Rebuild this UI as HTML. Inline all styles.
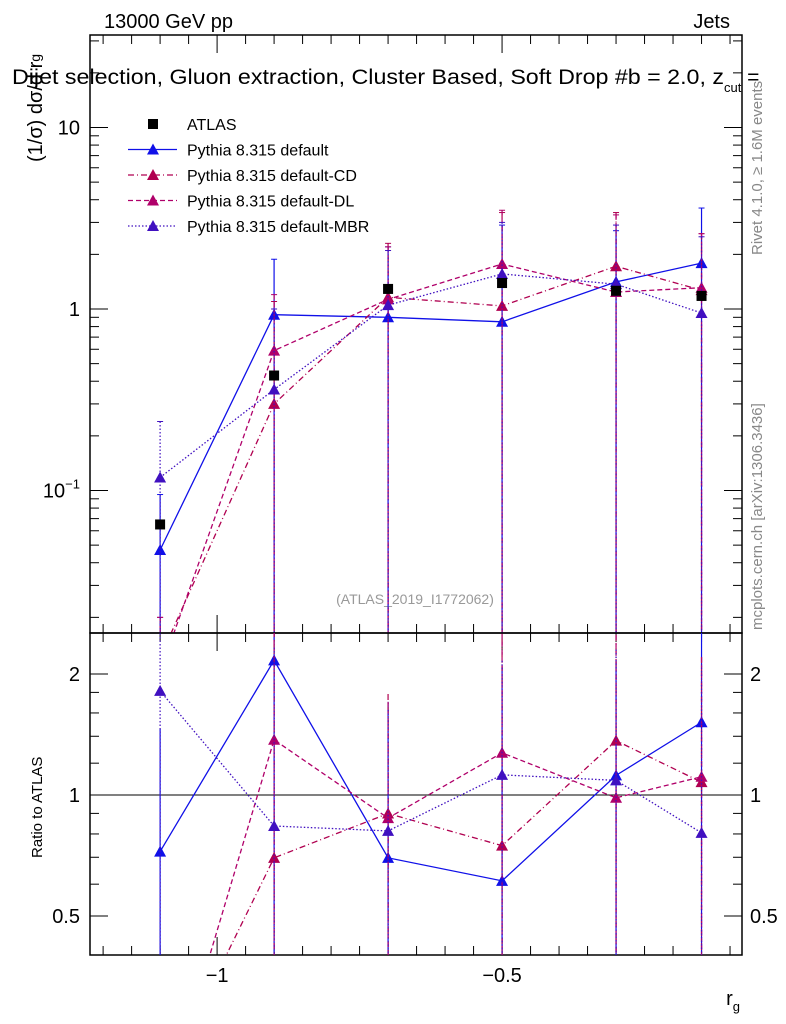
<!DOCTYPE html>
<html><head><meta charset="utf-8"><style>
html,body{margin:0;padding:0;background:#fff;overflow:hidden;width:786px;height:1024px;}
svg{display:block;font-family:"Liberation Sans",sans-serif;}
</style></head><body>
<svg id="chart" width="786" height="1024" viewBox="0 0 786 1024" xmlns="http://www.w3.org/2000/svg">
<text x="104" y="28" font-size="20">13000 GeV pp</text>
<text x="730" y="28" font-size="20" text-anchor="end">Jets</text>
<text x="12" y="84" font-size="21"><tspan textLength="712" lengthAdjust="spacingAndGlyphs">Dijet selection, Gluon extraction, Cluster Based, Soft Drop #b = 2.0, z</tspan><tspan font-size="13" dy="8">cut</tspan><tspan dy="-8"> =</tspan></text>
<text transform="translate(42,162) rotate(-90)" font-size="20">(1/σ) dσ/d r<tspan font-size="14" dy="-2">g</tspan></text>
<text transform="translate(42,858) rotate(-90)" font-size="15">Ratio to ATLAS</text>
<text x="740" y="1005" font-size="20" text-anchor="end">r<tspan font-size="13" dy="6">g</tspan></text>
<text transform="translate(762,255) rotate(-90)" font-size="15" fill="#888">Rivet 4.1.0, ≥ 1.6M events</text>
<text transform="translate(762,630) rotate(-90)" font-size="15" fill="#888">mcplots.cern.ch [arXiv:1306.3436]</text>
<text x="415" y="604" font-size="14" fill="#999" text-anchor="middle">(ATLAS_2019_I1772062)</text>
<g id="main"></g>
<g id="ratio"></g>
<g id="legend"></g>
</svg>
<script>
const xVals = [-1.1, -0.9, -0.7, -0.5, -0.3, -0.15];
const atlas = [0.065, 0.43, 1.29, 1.39, 1.26, 1.18];
const pyDefault = [0.047, 0.93, 0.90, 0.85, 1.41, 1.79];
const pyCD = [0.012, 0.30, 1.16, 1.04, 1.72, 1.27];
const pyDL = [0.010, 0.59, 1.13, 1.77, 1.24, 1.31];
const pyMBR = [0.118, 0.36, 1.05, 1.56, 1.37, 0.95];
const errUpDefault = [0.095, 1.88, 2.2, 2.9, 2.7, 3.6];
const errUpCD = [0.02, 1.1, 2.3, 3.4, 3.4, 2.6];
const errUpDL = [0.02, 1.2, 2.2, 3.5, 3.3, 2.6];
const errUpMBR = [0.24, 1.0, 2.1, 3.0, 2.9, 2.5];
const xTicks = [-1, -0.5];
const xTickLabels = ["−1", "−0.5"];
const yTicks = [10, 1, 0.1];
const ratioTicks = [2, 1, 0.5];

const NS = "http://www.w3.org/2000/svg";
const L = 90, R = 742, T = 35, MB = 633, RB = 955;
const xMin = -1.223, xMax = -0.079;
const X = v => L + (v - xMin) / (xMax - xMin) * (R - L);
const Y = v => 309 - Math.log10(v) * 181.5;
const RY = v => 795 - Math.log2(v) * 121;
function mk(tag, attrs, parent) { const e = document.createElementNS(NS, tag); for (const k in attrs) e.setAttribute(k, attrs[k]); parent.appendChild(e); return e; }
const main = document.getElementById('main'), ratio = document.getElementById('ratio'), leg = document.getElementById('legend');

const defs = mk('defs', {}, document.getElementById('chart'));
const c1 = mk('clipPath', {id: 'cm'}, defs); mk('rect', {x: L, y: T, width: R - L, height: MB - T}, c1);
const c2 = mk('clipPath', {id: 'cr'}, defs); mk('rect', {x: L, y: MB, width: R - L, height: RB - MB}, c2);

let f = mk('rect', {x: L, y: T, width: R - L, height: MB - T, fill: 'none', stroke: '#000', 'stroke-width': 1.5}, main);
 
f = mk('rect', {x: L, y: MB, width: R - L, height: RB - MB, fill: 'none', stroke: '#000', 'stroke-width': 1.5}, ratio);
 

for (let v = -1.2; v <= -0.08; v += 0.05) {
  const major = Math.abs(v*2-Math.round(v*2))<1e-6;
  const len = major ? 18 : 9, x = X(v);
  mk('line', {x1: x, x2: x, y1: T, y2: T + len, stroke: '#000'}, main);
  mk('line', {x1: x, x2: x, y1: MB, y2: MB - len, stroke: '#000'}, main);
  mk('line', {x1: x, x2: x, y1: MB, y2: MB + len, stroke: '#000'}, ratio);
  mk('line', {x1: x, x2: x, y1: RB, y2: RB - len, stroke: '#000'}, ratio);
}
xTicks.forEach((v, i) => { const t = mk('text', {x: X(v), y: 982, 'font-size': 20, 'text-anchor': 'middle'}, ratio); t.textContent = xTickLabels[i];
    });

for (let d = -2; d <= 1; d++) for (let m = 1; m <= 9; m++) {
  const v = m * Math.pow(10, d), y = Y(v); if (y < T || y > MB) continue;
  const len = m === 1 ? 18 : 9;
  mk('line', {x1: L, x2: L + len, y1: y, y2: y, stroke: '#000'}, main);
  mk('line', {x1: R, x2: R - len, y1: y, y2: y, stroke: '#000'}, main);
}
yTicks.forEach(v => { const t = mk('text', {x: 80, y: Y(v) + 7, 'font-size': 20, 'text-anchor': 'end'}, main);
  if (v === 0.1) { t.innerHTML = '10<tspan font-size="13" dy="-9">−1</tspan>'; } else t.textContent = String(v);
    });

[0.5,0.6,0.7,0.8,0.9,1,1.2,1.4,1.6,1.8,2].forEach(v => { const y = RY(v); const len = ratioTicks.includes(v) ? 18 : 9;
  mk('line', {x1: L, x2: L + len, y1: y, y2: y, stroke: '#000'}, ratio);
  mk('line', {x1: R, x2: R - len, y1: y, y2: y, stroke: '#000'}, ratio); });
ratioTicks.forEach(v => { ['left','right'].forEach(s => { const t = mk('text', {x: s === 'left' ? 80 : 750, y: RY(v) + 7, 'font-size': 20, 'text-anchor': s === 'left' ? 'end' : 'start'}, ratio);
  t.textContent = String(v);   }); });
const ref = mk('line', {x1: L, x2: R, y1: RY(1), y2: RY(1), stroke: '#000'}, ratio);
 

const series = [
  {name: 'default', vals: pyDefault, err: errUpDefault, color: '#1010e8', dash: ''},
  {name: 'default-CD', vals: pyCD, err: errUpCD, color: '#b00050', dash: '6,3,1,3'},
  {name: 'default-DL', vals: pyDL, err: errUpDL, color: '#b0006a', dash: '5,3'},
  {name: 'default-MBR', vals: pyMBR, err: errUpMBR, color: '#4010c0', dash: '1.5,2'}
];
function tri(g, x, y, c) { mk('path', {d: `M${x},${y - 6}L${x + 6},${y + 5}L${x - 6},${y + 5}Z`, fill: c}, g); }

series.forEach(s => {
  const g = mk('g', {'clip-path': 'url(#cm)'}, main);
   
  mk('polyline', {points: xVals.map((x, i) => X(x) + ',' + Y(s.vals[i])).join(' '), fill: 'none', stroke: s.color, 'stroke-width': 1.3, 'stroke-dasharray': s.dash}, g);
  xVals.forEach((x, i) => { mk('line', {x1: X(x), x2: X(x), y1: Y(s.err[i]), y2: MB, stroke: s.color, 'stroke-width': 1.2, 'stroke-dasharray': s.dash}, g);
    mk('line', {x1: X(x) - 3, x2: X(x) + 3, y1: Y(s.err[i]), y2: Y(s.err[i]), stroke: s.color}, g);
    tri(g, X(x), Y(s.vals[i]), s.color); });
  const gr = mk('g', {'clip-path': 'url(#cr)'}, ratio);
   
  const rv = s.vals.map((v, i) => v / atlas[i]);
  mk('polyline', {points: xVals.map((x, i) => X(x) + ',' + RY(rv[i])).join(' '), fill: 'none', stroke: s.color, 'stroke-width': 1.3, 'stroke-dasharray': s.dash}, gr);
  xVals.forEach((x, i) => { const up = s.err[i] / atlas[i];
    mk('line', {x1: X(x), x2: X(x), y1: RY(up), y2: RB, stroke: s.color, 'stroke-width': 1.2, 'stroke-dasharray': s.dash}, gr);
    tri(gr, X(x), RY(rv[i]), s.color); });
});
const ga = mk('g', {}, main);
 
xVals.forEach((x, i) => { mk('rect', {x: X(x) - 5, y: Y(atlas[i]) - 5, width: 10, height: 10, fill: '#000'}, ga); });

const names = ['ATLAS', 'Pythia 8.315 default', 'Pythia 8.315 default-CD', 'Pythia 8.315 default-DL', 'Pythia 8.315 default-MBR'];
names.forEach((n, i) => { const y = 124 + i * 25.5;
  const g = mk('g', {}, leg);
   
  if (i === 0) mk('rect', {x: 148, y: y - 5, width: 10, height: 10, fill: '#000'}, g);
  else { const s = series[i - 1]; mk('line', {x1: 128, x2: 177, y1: y, y2: y, stroke: s.color, 'stroke-width': 1.3, 'stroke-dasharray': s.dash}, g); tri(g, 153, y, s.color); }
  const t = mk('text', {x: 187, y: y + 6, 'font-size': 16}, g); t.textContent = n; });
</script>
</body></html>
